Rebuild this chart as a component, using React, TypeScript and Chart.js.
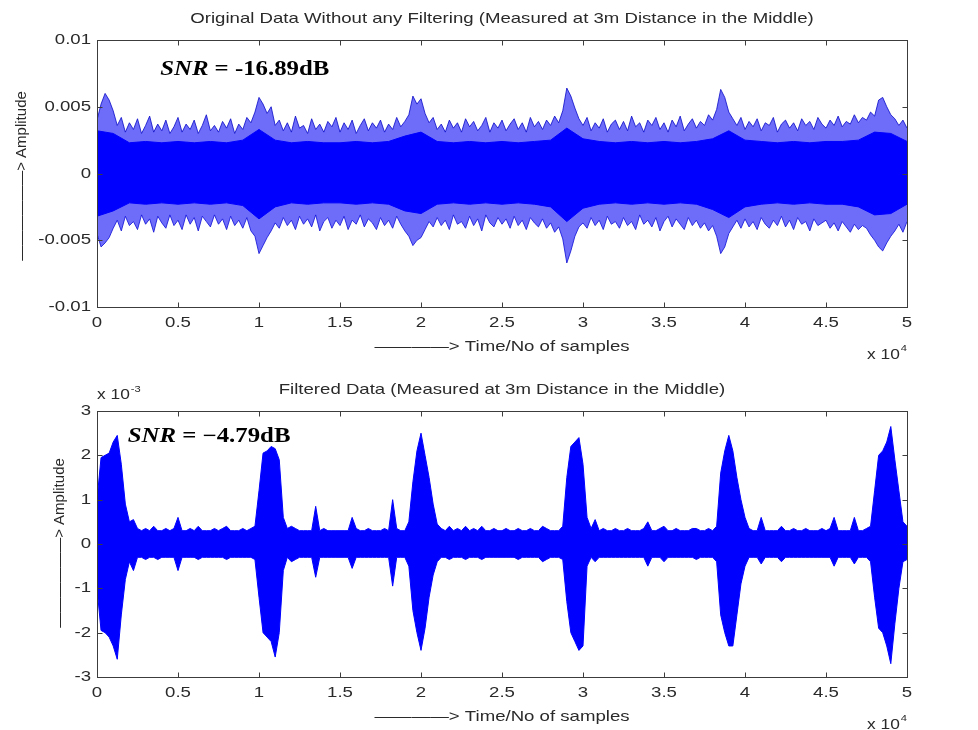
import React, { useEffect, useRef } from "react";
import { Chart, registerables } from "chart.js";

Chart.register(...registerables);

// ---------------------------------------------------------------------------
// Data
// ---------------------------------------------------------------------------

// Sample spacing (in samples) of the envelope readings below.
const RAW_PEAK_STEP = 250;
const RAW_CORE_STEP = 1000;
const FILT_STEP = 250;

// Original record: outer envelope of the spikes (amplitude).
const rawPeakHigh = [
  0.0040, 0.0052, 0.0060, 0.0055, 0.0047, 0.0036, 0.0042, 0.0031, 0.0038, 0.0033,
  0.0041, 0.0030, 0.0036, 0.0043, 0.0031, 0.0037, 0.0032, 0.0040, 0.0030, 0.0035,
  0.0042, 0.0031, 0.0037, 0.0033, 0.0040, 0.0030, 0.0036, 0.0044, 0.0032, 0.0036,
  0.0031, 0.0039, 0.0034, 0.0041, 0.0030, 0.0037, 0.0033, 0.0042, 0.0038, 0.0046,
  0.0057, 0.0052, 0.0045, 0.0050, 0.0036, 0.0040, 0.0032, 0.0038, 0.0031, 0.0043,
  0.0034, 0.0036, 0.0030, 0.0041, 0.0033, 0.0037, 0.0031, 0.0039, 0.0035, 0.0042,
  0.0031, 0.0038, 0.0033, 0.0040, 0.0030, 0.0036, 0.0041, 0.0032, 0.0038, 0.0034,
  0.0040, 0.0031, 0.0037, 0.0033, 0.0042, 0.0035, 0.0039, 0.0044, 0.0058, 0.0052,
  0.0056, 0.0045, 0.0038, 0.0042, 0.0033, 0.0037, 0.0031, 0.0040, 0.0034, 0.0038,
  0.0031, 0.0041, 0.0035, 0.0039, 0.0032, 0.0036, 0.0042, 0.0031, 0.0038, 0.0034,
  0.0040, 0.0032, 0.0037, 0.0041, 0.0033, 0.0038, 0.0031, 0.0042, 0.0035, 0.0039,
  0.0033, 0.0040, 0.0036, 0.0043, 0.0038, 0.0047, 0.0064, 0.0058, 0.0049, 0.0041,
  0.0036, 0.0042, 0.0032, 0.0038, 0.0034, 0.0041, 0.0031, 0.0037, 0.0040, 0.0033,
  0.0039, 0.0032, 0.0043, 0.0035, 0.0038, 0.0031, 0.0040, 0.0036, 0.0042, 0.0033,
  0.0038, 0.0031, 0.0040, 0.0035, 0.0043, 0.0032, 0.0037, 0.0041, 0.0034, 0.0039,
  0.0036, 0.0044, 0.0040, 0.0048, 0.0063, 0.0057, 0.0046, 0.0041, 0.0036, 0.0042,
  0.0033, 0.0039, 0.0035, 0.0041, 0.0032, 0.0038, 0.0036, 0.0042, 0.0031, 0.0037,
  0.0040, 0.0034, 0.0038, 0.0032, 0.0041, 0.0036, 0.0039, 0.0033, 0.0042, 0.0037,
  0.0034, 0.0040, 0.0036, 0.0043, 0.0035, 0.0039, 0.0037, 0.0044, 0.0038, 0.0042,
  0.0040, 0.0046, 0.0043, 0.0055, 0.0057, 0.0050, 0.0044, 0.0041, 0.0036, 0.0040,
  0.0034,
];
const rawPeakLow = [
  -0.0045, -0.0055, -0.0052, -0.0048, -0.0041, -0.0035, -0.0043, -0.0032, -0.0039, -0.0036,
  -0.0042, -0.0031, -0.0038, -0.0034, -0.0044, -0.0032, -0.0037, -0.0041, -0.0031, -0.0039,
  -0.0035, -0.0042, -0.0031, -0.0038, -0.0033, -0.0043, -0.0032, -0.0036, -0.0040, -0.0031,
  -0.0038, -0.0034, -0.0042, -0.0032, -0.0039, -0.0035, -0.0041, -0.0033, -0.0043, -0.0047,
  -0.0060, -0.0054, -0.0048, -0.0043, -0.0037, -0.0041, -0.0033, -0.0039, -0.0035, -0.0042,
  -0.0032, -0.0038, -0.0034, -0.0040, -0.0031, -0.0043, -0.0036, -0.0033, -0.0041, -0.0035,
  -0.0039, -0.0032, -0.0042, -0.0035, -0.0038, -0.0031, -0.0040, -0.0034, -0.0037, -0.0042,
  -0.0033, -0.0039, -0.0035, -0.0041, -0.0032, -0.0038, -0.0043, -0.0047, -0.0054, -0.0050,
  -0.0048, -0.0042, -0.0036, -0.0040, -0.0033, -0.0039, -0.0035, -0.0042, -0.0031, -0.0038,
  -0.0036, -0.0041, -0.0032, -0.0039, -0.0034, -0.0043, -0.0031, -0.0037, -0.0040, -0.0033,
  -0.0038, -0.0034, -0.0041, -0.0032, -0.0039, -0.0035, -0.0042, -0.0033, -0.0037, -0.0040,
  -0.0034, -0.0041, -0.0037, -0.0044, -0.0040, -0.0049, -0.0067, -0.0058, -0.0047, -0.0040,
  -0.0037, -0.0041, -0.0033, -0.0039, -0.0035, -0.0042, -0.0032, -0.0038, -0.0036, -0.0041,
  -0.0033, -0.0039, -0.0036, -0.0042, -0.0031, -0.0038, -0.0035, -0.0040, -0.0033, -0.0043,
  -0.0036, -0.0032, -0.0040, -0.0034, -0.0038, -0.0042, -0.0033, -0.0039, -0.0035, -0.0041,
  -0.0037, -0.0043, -0.0039, -0.0047, -0.0060, -0.0055, -0.0045, -0.0040, -0.0035, -0.0041,
  -0.0034, -0.0040, -0.0036, -0.0042, -0.0033, -0.0038, -0.0041, -0.0035, -0.0039, -0.0032,
  -0.0040, -0.0035, -0.0042, -0.0033, -0.0038, -0.0036, -0.0043, -0.0034, -0.0039, -0.0037,
  -0.0035, -0.0041, -0.0037, -0.0043, -0.0036, -0.0040, -0.0044, -0.0038, -0.0042, -0.0039,
  -0.0041, -0.0046, -0.0050, -0.0055, -0.0058, -0.0052, -0.0047, -0.0043, -0.0038, -0.0044,
  -0.0036,
];

// Original record: dense core of the noise band.
const rawCoreHigh = [
  0.0032, 0.0030, 0.0023, 0.0024, 0.0023, 0.0024, 0.0023, 0.0024, 0.0023, 0.0025,
  0.0033, 0.0025, 0.0023, 0.0024, 0.0023, 0.0023, 0.0024, 0.0023, 0.0024, 0.0028,
  0.0031, 0.0024, 0.0023, 0.0024, 0.0023, 0.0024, 0.0023, 0.0024, 0.0025, 0.0034,
  0.0026, 0.0024, 0.0023, 0.0024, 0.0023, 0.0024, 0.0023, 0.0024, 0.0026, 0.0032,
  0.0025, 0.0024, 0.0023, 0.0024, 0.0023, 0.0024, 0.0024, 0.0025, 0.0031, 0.0030,
  0.0024,
];
const rawCoreLow = [
  -0.0032, -0.0028, -0.0022, -0.0023, -0.0022, -0.0023, -0.0022, -0.0023, -0.0022, -0.0024,
  -0.0034, -0.0025, -0.0022, -0.0023, -0.0022, -0.0022, -0.0023, -0.0022, -0.0023, -0.0028,
  -0.0030, -0.0023, -0.0022, -0.0023, -0.0022, -0.0023, -0.0022, -0.0023, -0.0025, -0.0036,
  -0.0026, -0.0023, -0.0022, -0.0023, -0.0022, -0.0023, -0.0022, -0.0023, -0.0027, -0.0033,
  -0.0025, -0.0023, -0.0022, -0.0023, -0.0022, -0.0023, -0.0023, -0.0025, -0.0031, -0.0030,
  -0.0023,
];

// Filtered record envelope, in units of 10^-3.
const filtHigh = [
  1.0, 1.95, 2.0, 2.05, 2.3, 2.45, 1.8, 0.9, 0.5, 0.55,
  0.35, 0.3, 0.35, 0.3, 0.4, 0.3, 0.3, 0.35, 0.3, 0.35,
  0.6, 0.3, 0.3, 0.35, 0.3, 0.4, 0.3, 0.3, 0.3, 0.35,
  0.3, 0.35, 0.4, 0.3, 0.3, 0.3, 0.35, 0.3, 0.35, 0.4,
  1.2, 2.05, 2.1, 2.2, 2.15, 1.9, 0.6, 0.35, 0.4, 0.35,
  0.3, 0.3, 0.3, 0.3, 0.85, 0.3, 0.35, 0.3, 0.3, 0.3,
  0.3, 0.3, 0.3, 0.6, 0.35, 0.3, 0.3, 0.35, 0.3, 0.3,
  0.3, 0.35, 0.3, 1.0, 0.35, 0.3, 0.3, 0.5, 1.4, 2.1,
  2.5, 2.0, 1.5, 0.9, 0.45, 0.35, 0.3, 0.4, 0.3, 0.35,
  0.3, 0.4, 0.3, 0.35, 0.3, 0.4, 0.3, 0.3, 0.35, 0.3,
  0.3, 0.35, 0.3, 0.3, 0.35, 0.3, 0.3, 0.35, 0.3, 0.3,
  0.4, 0.35, 0.3, 0.3, 0.3, 0.4, 1.5, 2.2, 2.3, 2.4,
  1.8, 0.6, 0.35, 0.55, 0.3, 0.35, 0.3, 0.3, 0.35, 0.3,
  0.3, 0.35, 0.3, 0.3, 0.3, 0.35, 0.5, 0.3, 0.3, 0.35,
  0.4, 0.3, 0.3, 0.35, 0.3, 0.3, 0.3, 0.35, 0.35, 0.3,
  0.3, 0.35, 0.3, 0.4, 1.6, 2.1, 2.45, 2.1, 1.5, 1.0,
  0.6, 0.35, 0.3, 0.3, 0.6, 0.3, 0.3, 0.3, 0.3, 0.4,
  0.3, 0.3, 0.35, 0.3, 0.3, 0.35, 0.3, 0.3, 0.3, 0.35,
  0.3, 0.35, 0.6, 0.3, 0.3, 0.3, 0.3, 0.6, 0.3, 0.3,
  0.35, 0.4, 1.2, 2.0, 2.1, 2.3, 2.65, 1.9, 1.2, 0.5,
  0.4,
];
const filtLow = [
  -1.0, -1.95, -2.0, -2.1, -2.3, -2.6, -1.6, -0.8, -0.4, -0.6,
  -0.3, -0.3, -0.35, -0.3, -0.3, -0.35, -0.3, -0.3, -0.3, -0.3,
  -0.6, -0.3, -0.3, -0.3, -0.3, -0.35, -0.3, -0.3, -0.3, -0.3,
  -0.3, -0.3, -0.35, -0.3, -0.3, -0.3, -0.3, -0.3, -0.3, -0.35,
  -1.2, -2.0, -2.1, -2.2, -2.55, -2.0, -0.6, -0.3, -0.4, -0.35,
  -0.3, -0.3, -0.3, -0.3, -0.75, -0.3, -0.3, -0.3, -0.3, -0.3,
  -0.3, -0.3, -0.3, -0.55, -0.3, -0.3, -0.3, -0.3, -0.3, -0.3,
  -0.3, -0.3, -0.3, -0.95, -0.3, -0.3, -0.3, -0.5, -1.5, -2.0,
  -2.4, -1.9, -1.2, -0.7, -0.4, -0.3, -0.3, -0.35, -0.3, -0.3,
  -0.3, -0.35, -0.3, -0.3, -0.3, -0.35, -0.3, -0.3, -0.3, -0.3,
  -0.3, -0.3, -0.3, -0.3, -0.35, -0.3, -0.3, -0.3, -0.3, -0.3,
  -0.4, -0.35, -0.3, -0.3, -0.3, -0.35, -1.3, -2.0, -2.2, -2.4,
  -2.3, -0.5, -0.3, -0.4, -0.3, -0.3, -0.3, -0.3, -0.3, -0.3,
  -0.3, -0.3, -0.3, -0.3, -0.3, -0.3, -0.5, -0.3, -0.3, -0.3,
  -0.4, -0.3, -0.3, -0.3, -0.3, -0.3, -0.3, -0.3, -0.35, -0.3,
  -0.3, -0.3, -0.3, -0.4, -1.6, -2.0, -2.3, -2.3, -1.6, -0.9,
  -0.5, -0.3, -0.3, -0.3, -0.45, -0.3, -0.3, -0.3, -0.3, -0.4,
  -0.3, -0.3, -0.3, -0.3, -0.3, -0.3, -0.3, -0.3, -0.3, -0.3,
  -0.3, -0.3, -0.5, -0.3, -0.3, -0.3, -0.3, -0.45, -0.3, -0.3,
  -0.3, -0.4, -1.2, -1.9, -2.0, -2.3, -2.7, -1.8, -1.0, -0.4,
  -0.35,
];

// Axis ticks
const xTickValues = [0, 5000, 10000, 15000, 20000, 25000, 30000, 35000, 40000, 45000, 50000];
const xTickLabels = ["0", "0.5", "1", "1.5", "2", "2.5", "3", "3.5", "4", "4.5", "5"];
const rawYTickValues = [-0.01, -0.005, 0, 0.005, 0.01];
const rawYTickLabels = ["-0.01", "-0.005", "0", "0.005", "0.01"];
const filtYTickValues = [-3, -2, -1, 0, 1, 2, 3];
const filtYTickLabels = ["-3", "-2", "-1", "0", "1", "2", "3"];

// ---------------------------------------------------------------------------
// Drawing helpers
// ---------------------------------------------------------------------------

const SANS = "'Liberation Sans', Arial, Helvetica, sans-serif";
const SERIF = "'Liberation Serif', 'Times New Roman', Times, serif";
const STRETCH = 1.24;
const INK = "#2a2a2a";
const BLUE = "#0000ff";

type Align = "left" | "center" | "right";

function stretchedText(
  ctx: CanvasRenderingContext2D,
  text: string,
  x: number,
  y: number,
  font: string,
  align: Align,
  color: string = INK,
  sx: number = STRETCH
) {
  ctx.save();
  ctx.font = font;
  ctx.fillStyle = color;
  ctx.textBaseline = "middle";
  ctx.textAlign = "left";
  const w = ctx.measureText(text).width * sx;
  const left = align === "left" ? x : align === "center" ? x - w / 2 : x - w;
  ctx.translate(left, y);
  ctx.scale(sx, 1);
  ctx.fillText(text, 0, 0);
  ctx.restore();
  return w;
}

interface PanelSpec {
  title: string;
  yTickValues: number[];
  yTickLabels: string[];
  snrValue: string;
  snrAt: { x: number; y: number };
  yLabelX: number;
  yLabelY: number;
  yExponent?: string;
}

function framePlugin(spec: PanelSpec) {
  return {
    id: "matlabFrame",
    afterDraw(chart: any) {
      const { ctx, chartArea: a, scales } = chart;
      const xs = scales.x;
      const ys = scales.y;
      ctx.save();

      // axes box
      ctx.strokeStyle = "#3c3c3c";
      ctx.lineWidth = 1;
      const L = Math.round(a.left) + 0.5;
      const R = Math.round(a.right) + 0.5;
      const T = Math.round(a.top) + 0.5;
      const B = Math.round(a.bottom) + 0.5;
      ctx.strokeRect(L, T, R - L, B - T);

      // inward tick marks on all four sides
      const tl = 5;
      ctx.beginPath();
      xTickValues.forEach((v) => {
        const px = Math.round(xs.getPixelForValue(v)) + 0.5;
        ctx.moveTo(px, B);
        ctx.lineTo(px, B - tl);
        ctx.moveTo(px, T);
        ctx.lineTo(px, T + tl);
      });
      spec.yTickValues.forEach((v) => {
        const py = Math.round(ys.getPixelForValue(v)) + 0.5;
        ctx.moveTo(L, py);
        ctx.lineTo(L + tl, py);
        ctx.moveTo(R, py);
        ctx.lineTo(R - tl, py);
      });
      ctx.stroke();

      const tickFont = `15px ${SANS}`;
      xTickValues.forEach((v, i) => {
        stretchedText(ctx, xTickLabels[i], xs.getPixelForValue(v), a.bottom + 16, tickFont, "center");
      });
      spec.yTickValues.forEach((v, i) => {
        stretchedText(ctx, spec.yTickLabels[i], a.left - 6, ys.getPixelForValue(v), tickFont, "right");
      });

      // title
      stretchedText(ctx, spec.title, (a.left + a.right) / 2, a.top - 21, `15px ${SANS}`, "center");

      // x label and x10^4 multiplier
      stretchedText(ctx, "————> Time/No of samples", (a.left + a.right) / 2, a.bottom + 40, `15px ${SANS}`, "center");
      const wx = stretchedText(ctx, "x 10", a.right - 40, a.bottom + 48, `14px ${SANS}`, "left");
      stretchedText(ctx, "4", a.right - 40 + wx + 1, a.bottom + 42, `9px ${SANS}`, "left");

      // y multiplier
      if (spec.yExponent) {
        const wy = stretchedText(ctx, "x 10", a.left, a.top - 16, `14px ${SANS}`, "left");
        stretchedText(ctx, spec.yExponent, a.left + wy + 1, a.top - 21, `9px ${SANS}`, "left");
      }

      // rotated y label
      ctx.save();
      ctx.translate(spec.yLabelX, spec.yLabelY);
      ctx.rotate(-Math.PI / 2);
      ctx.font = `15px ${SANS}`;
      ctx.fillStyle = INK;
      ctx.textAlign = "center";
      ctx.textBaseline = "middle";
      ctx.fillText("——————> Amplitude", 0, 0);
      ctx.restore();

      // SNR annotation placed in data coordinates
      const sx0 = xs.getPixelForValue(spec.snrAt.x);
      const sy0 = ys.getPixelForValue(spec.snrAt.y);
      const w1 = stretchedText(ctx, "SNR", sx0, sy0, `italic bold 20px ${SERIF}`, "left", "#000");
      stretchedText(ctx, " = " + spec.snrValue, sx0 + w1, sy0, `bold 20px ${SERIF}`, "left", "#000");

      ctx.restore();
    },
  };
}

function points(values: number[], step: number) {
  return values.map((v, i) => ({ x: i * step, y: v }));
}

function band(hi: number[], lo: number[], step: number, fillColor: string, lineColor: string, order: number) {
  return [
    {
      data: points(hi, step),
      borderColor: lineColor,
      backgroundColor: fillColor,
      borderWidth: 1,
      pointRadius: 0,
      tension: 0,
      fill: "+1",
      order,
    },
    {
      data: points(lo, step),
      borderColor: lineColor,
      backgroundColor: fillColor,
      borderWidth: 1,
      pointRadius: 0,
      tension: 0,
      fill: false,
      order,
    },
  ];
}

function baseOptions(yMin: number, yMax: number, padding: any) {
  return {
    responsive: false,
    maintainAspectRatio: false,
    animation: false as const,
    events: [],
    layout: { padding },
    plugins: {
      legend: { display: false },
      tooltip: { enabled: false },
      title: { display: false },
    },
    scales: {
      x: { type: "linear" as const, min: 0, max: 50000, display: false },
      y: { type: "linear" as const, min: yMin, max: yMax, display: false },
    },
  };
}

export default function App() {
  const topRef = useRef<HTMLCanvasElement>(null);
  const bottomRef = useRef<HTMLCanvasElement>(null);

  useEffect(() => {
    const top = new Chart(topRef.current as HTMLCanvasElement, {
      type: "line",
      data: {
        datasets: [
          ...band(rawCoreHigh, rawCoreLow, RAW_CORE_STEP, BLUE, BLUE, 1),
          ...band(rawPeakHigh, rawPeakLow, RAW_PEAK_STEP, "rgba(20,20,245,0.62)", "rgba(10,10,200,0.8)", 2),
        ] as any,
      },
      options: baseOptions(-0.01, 0.01, { left: 97, right: 71, top: 40, bottom: 58 }) as any,
      plugins: [
        framePlugin({
          title: "Original Data Without any Filtering (Measured at 3m Distance in the Middle)",
          yTickValues: rawYTickValues,
          yTickLabels: rawYTickLabels,
          snrValue: "-16.89dB",
          snrAt: { x: 3900, y: 0.0078 },
          yLabelX: 22,
          yLabelY: 176,
        }),
      ],
    });

    const bottom = new Chart(bottomRef.current as HTMLCanvasElement, {
      type: "line",
      data: {
        datasets: band(filtHigh, filtLow, FILT_STEP, BLUE, BLUE, 1) as any,
      },
      options: baseOptions(-3, 3, { left: 97, right: 71, top: 46, bottom: 53 }) as any,
      plugins: [
        framePlugin({
          title: "Filtered Data (Measured at 3m Distance in the Middle)",
          yTickValues: filtYTickValues,
          yTickLabels: filtYTickLabels,
          snrValue: "−4.79dB",
          snrAt: { x: 1900, y: 2.42 },
          yLabelX: 60,
          yLabelY: 178,
          yExponent: "-3",
        }),
      ],
    });

    return () => {
      top.destroy();
      bottom.destroy();
    };
  }, []);

  return (
    <div
      style={{
        position: "fixed",
        left: 0,
        top: 0,
        width: 978,
        height: 730,
        background: "#ffffff",
        overflow: "hidden",
      }}
    >
      <canvas ref={topRef} width={978} height={365} style={{ position: "absolute", left: 0, top: 0 }} />
      <canvas ref={bottomRef} width={978} height={365} style={{ position: "absolute", left: 0, top: 365 }} />
    </div>
  );
}
